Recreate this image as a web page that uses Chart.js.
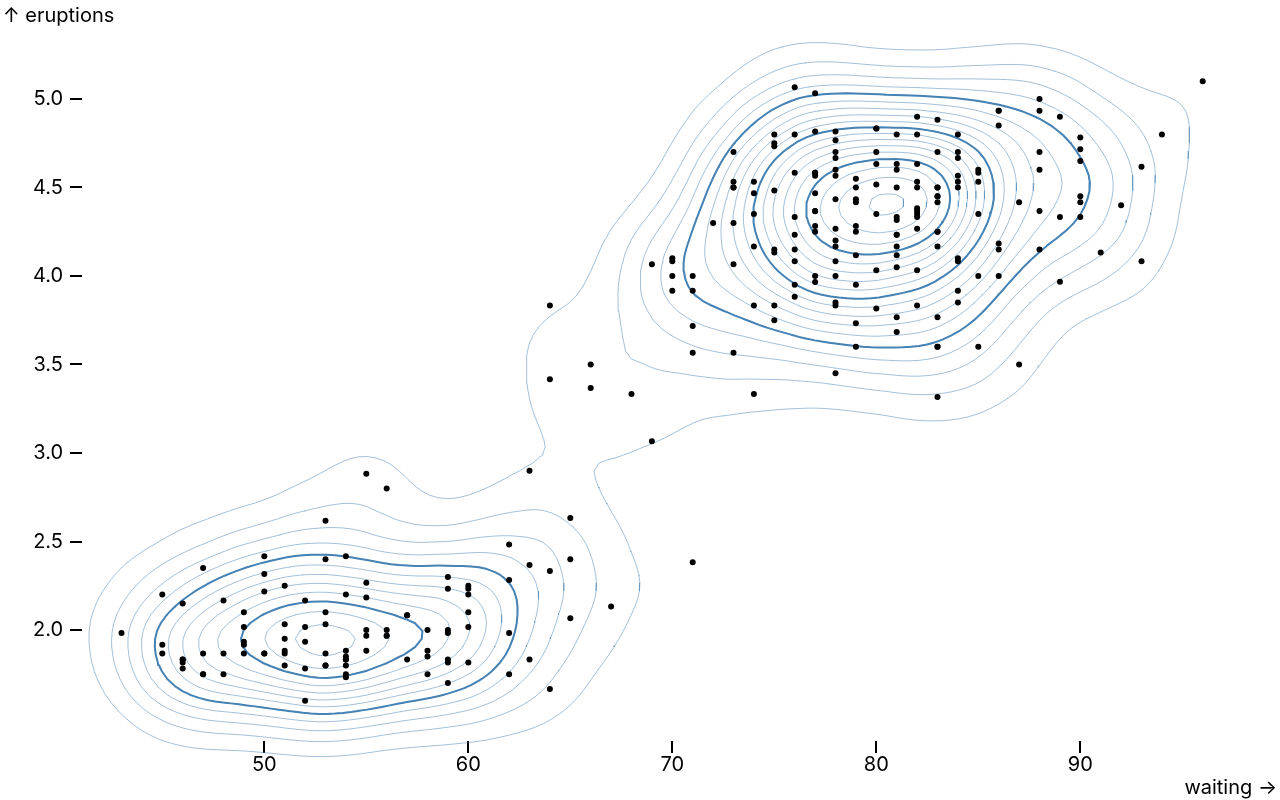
<!DOCTYPE html>
<html>
<head>
<meta charset="utf-8">
<script src="https://cdn.jsdelivr.net/npm/chart.js@4"></script>
<style>
  html, body { margin: 0; padding: 0; background: #fff; }
  #wrap { width: 1280px; height: 800px; }
</style>
</head>
<body>
<div id="wrap"><canvas id="c" width="1280" height="800"></canvas></div>
<script>
// ---- Data: Old Faithful (waiting minutes, eruption minutes) ----
const WAITING = [
79,54,74,62,85,55,88,85,51,85,
54,84,78,47,83,52,62,84,52,79,
51,47,78,69,74,83,55,76,78,79,
73,77,66,80,74,52,48,80,59,90,
80,58,84,58,73,83,64,53,82,59,
75,90,54,80,54,83,71,64,77,81,
59,84,48,82,60,92,78,78,65,73,
82,56,79,71,62,76,60,78,76,83,
75,82,70,65,73,88,76,80,48,86,
60,90,50,78,63,72,84,75,51,82,
62,88,49,83,81,47,84,52,86,81,
75,59,89,79,59,81,50,85,59,87,
53,69,77,56,88,81,45,82,55,90,
45,83,56,89,46,82,51,86,53,79,
81,60,82,77,76,59,80,49,96,53,
77,77,65,81,71,70,81,93,53,89,
45,86,58,78,66,76,63,88,52,93,
49,57,77,68,81,81,73,50,85,74,
55,77,83,83,51,78,84,46,83,55,
81,57,76,84,77,81,87,77,51,78,
60,82,91,53,78,46,77,84,49,83,
71,80,49,75,64,76,53,94,55,76,
50,82,54,75,78,79,78,78,70,79,
70,54,86,50,90,54,54,77,79,64,
75,47,86,63,85,82,57,82,67,74,
54,83,73,73,88,80,71,83,56,79,
78,84,58,83,43,60,75,81,46,90,
46,74];
const ERUPTIONS = [
3.600,1.800,3.333,2.283,4.533,2.883,4.700,3.600,1.950,4.350,
1.833,3.917,4.200,1.750,4.700,2.167,1.750,4.800,1.600,4.250,
1.800,1.750,3.450,3.067,4.533,3.600,1.967,4.083,3.850,4.433,
4.300,4.467,3.367,4.033,3.833,2.017,1.867,4.833,1.833,4.783,
4.350,1.883,4.567,1.750,4.533,3.317,3.833,2.100,4.633,2.000,
4.800,4.716,1.833,4.833,1.733,4.883,3.717,1.667,4.567,4.317,
2.233,4.500,1.750,4.800,1.817,4.400,4.167,4.700,2.067,4.700,
4.033,1.967,4.500,4.000,1.983,5.067,2.017,4.567,3.883,3.600,
4.133,4.333,4.100,2.633,4.067,4.933,3.950,4.517,2.167,4.000,
2.200,4.333,1.867,4.817,1.833,4.300,4.667,3.750,1.867,4.900,
2.483,4.367,2.100,4.500,4.050,1.867,4.700,1.783,4.850,3.683,
4.733,2.300,4.900,4.417,1.700,4.633,2.317,4.600,1.817,4.417,
2.617,4.067,4.250,1.967,4.600,3.767,1.917,4.500,2.267,4.650,
1.867,4.167,2.800,4.333,1.833,4.383,1.883,4.933,2.033,3.733,
4.233,2.233,4.533,4.817,4.333,1.983,4.633,2.017,5.100,1.800,
5.033,4.000,2.400,4.600,3.567,4.000,4.500,4.083,1.800,3.967,
2.200,4.150,2.000,3.833,3.500,4.583,2.367,5.000,1.933,4.617,
1.917,2.083,4.583,3.333,4.167,4.333,4.500,2.417,4.000,4.167,
1.883,4.583,4.250,3.767,2.033,4.433,4.083,1.833,4.417,2.183,
4.800,1.833,4.800,4.100,3.966,4.233,3.500,4.366,2.250,4.667,
2.100,4.350,4.133,1.867,4.600,1.783,4.367,3.850,1.933,4.500,
2.383,4.700,1.867,3.833,3.417,4.233,2.400,4.800,2.000,4.150,
1.867,4.267,1.750,4.483,4.000,4.117,4.083,4.267,3.917,4.550,
4.083,2.417,4.183,2.217,4.450,1.883,1.850,4.283,3.950,2.333,
4.150,2.350,4.933,2.900,4.583,3.833,2.083,4.367,2.133,4.350,
2.200,4.450,3.567,4.500,4.150,3.817,3.917,4.450,2.000,4.283,
4.767,4.533,1.850,4.250,1.983,2.250,4.750,4.117,2.150,4.417,
1.817,4.467];

const X_TICKS = [50, 60, 70, 80, 90];
const Y_TICKS = [2.0, 2.5, 3.0, 3.5, 4.0, 4.5, 5.0];
const X_LABEL = "waiting \u2192";
const Y_LABEL = "\u2191 eruptions";

// density contour settings (plot units; the picture is drawn at 2x)
const PLOT_SCALE = 2;
const BANDWIDTH = 20;
const THIN_THRESHOLDS = 20;
const BOLD_THRESHOLDS = 4;
const LEVEL_FACTOR = 1.10;

const FONT = 'Inter, "Noto Sans", "DejaVu Sans", sans-serif';
const STEEL = '#4682b4';

function uniformThresholds(max, count) {
  const out = [];
  for (let i = 1; i < count; i++) out.push(max * i / count);
  return out;
}
function blurf(radius) {
  const radius0 = Math.floor(radius);
  const t = radius - radius0;
  const w = 2 * radius + 1;
  return (T, S, start, stop, step) => {
    if (!((stop -= step) >= start)) return;
    let sum = radius0 * S[start];
    const s0 = step * radius0;
    const s1 = s0 + step;
    for (let i = start, j = start + s0; i < j; i += step) sum += S[Math.min(stop, i)];
    for (let i = start, j = stop; i <= j; i += step) {
      sum += S[Math.min(stop, i + s0)];
      T[i] = (sum + t * (S[Math.max(start, i - s1)] + S[Math.min(stop, i + s1)])) / w;
      sum -= S[Math.max(start, i - s0)];
    }
  };
}
function blur2(values, width, height, rad) {
  const b = blurf(rad);
  const temp = values.slice();
  const bh = (T, S) => { for (let y = 0, n = width * height; y < n;) b(T, S, y, y += width, 1); };
  const bv = (T, S) => { for (let x = 0, n = width * height; x < width; ++x) b(T, S, x, x + n, width); };
  bh(temp, values); bh(values, temp); bh(temp, values);
  bv(values, temp); bv(temp, values); bv(values, temp);
}
function isolines(vals, NN, MM, t) {
  const pts = new Map();
  const segs = [];
  const get = (i, j) => vals[j * NN + i];
  const hKey = (i, j) => (j * NN + i) * 2;
  const vKey = (i, j) => (j * NN + i) * 2 + 1;
  function hp(i, j) { const k = hKey(i, j); if (!pts.has(k)) { const a = get(i, j), b = get(i + 1, j); pts.set(k, [i + (t - a) / (b - a), j]); } return k; }
  function vp(i, j) { const k = vKey(i, j); if (!pts.has(k)) { const a = get(i, j), b = get(i, j + 1); pts.set(k, [i, j + (t - a) / (b - a)]); } return k; }
  for (let j = 0; j < MM - 1; j++) {
    for (let i = 0; i < NN - 1; i++) {
      const v0 = get(i, j), v1 = get(i + 1, j), v2 = get(i + 1, j + 1), v3 = get(i, j + 1);
      const code = (v0 >= t ? 8 : 0) | (v1 >= t ? 4 : 0) | (v2 >= t ? 2 : 0) | (v3 >= t ? 1 : 0);
      if (code === 0 || code === 15) continue;
      const T = () => hp(i, j), R = () => vp(i + 1, j), B = () => hp(i, j + 1), L = () => vp(i, j);
      switch (code) {
        case 1: case 14: segs.push([L(), B()]); break;
        case 2: case 13: segs.push([B(), R()]); break;
        case 3: case 12: segs.push([L(), R()]); break;
        case 4: case 11: segs.push([T(), R()]); break;
        case 6: case 9: segs.push([T(), B()]); break;
        case 7: case 8: segs.push([L(), T()]); break;
        case 5: { const c = (v0 + v1 + v2 + v3) / 4;
          if (c >= t) { segs.push([L(), T()]); segs.push([B(), R()]); } else { segs.push([L(), B()]); segs.push([T(), R()]); } break; }
        case 10: { const c = (v0 + v1 + v2 + v3) / 4;
          if (c >= t) { segs.push([L(), B()]); segs.push([T(), R()]); } else { segs.push([L(), T()]); segs.push([B(), R()]); } break; }
      }
    }
  }
  const adj = new Map();
  segs.forEach((s, idx) => { for (const k of s) { if (!adj.has(k)) adj.set(k, []); adj.get(k).push(idx); } });
  const used = new Uint8Array(segs.length);
  const chains = [];
  for (let s = 0; s < segs.length; s++) {
    if (used[s]) continue;
    used[s] = 1;
    const chain = [segs[s][0], segs[s][1]];
    let cur = chain[1];
    for (;;) { const list = adj.get(cur); let nx = -1; for (const q of list) if (!used[q]) { nx = q; break; } if (nx < 0) break; used[nx] = 1; const o = segs[nx][0] === cur ? segs[nx][1] : segs[nx][0]; chain.push(o); cur = o; }
    cur = chain[0];
    for (;;) { const list = adj.get(cur); let nx = -1; for (const q of list) if (!used[q]) { nx = q; break; } if (nx < 0) break; used[nx] = 1; const o = segs[nx][0] === cur ? segs[nx][1] : segs[nx][0]; chain.unshift(o); cur = o; }
    chains.push(chain.map(k => pts.get(k)));
  }
  return chains;
}
function buildContours(chart) {
  const xs = chart.scales.x, ys = chart.scales.y;
  const W = chart.width / PLOT_SCALE, H = chart.height / PLOT_SCALE;
  const r = (Math.sqrt(4 * BANDWIDTH * BANDWIDTH + 1) - 1) / 2;
  const k = 2, o = r * 3;
  const n = (W + o * 2) >> k, m = (H + o * 2) >> k;
  const values = new Float32Array(n * m);
  const p2k = Math.pow(2, -k);
  for (let i = 0; i < WAITING.length; i++) {
    const xi = (xs.getPixelForValue(WAITING[i]) / PLOT_SCALE + o) * p2k;
    const yi = (ys.getPixelForValue(ERUPTIONS[i]) / PLOT_SCALE + o) * p2k;
    if (xi >= 0 && xi < n && yi >= 0 && yi < m) {
      const x0 = Math.floor(xi), y0 = Math.floor(yi);
      const xt = xi - x0 - 0.5, yt = yi - y0 - 0.5;
      values[x0 + y0 * n] += (1 - xt) * (1 - yt);
      values[x0 + 1 + y0 * n] += xt * (1 - yt);
      values[x0 + 1 + (y0 + 1) * n] += xt * yt;
      values[x0 + (y0 + 1) * n] += (1 - xt) * yt;
    }
  }
  blur2(values, n, m, r * p2k);
  let mx = 0; for (const v of values) if (v > mx) mx = v;
  mx *= LEVEL_FACTOR;
  const NN = n + 2, MM = m + 2;
  const pad = new Float64Array(NN * MM);
  for (let j = 0; j < m; j++) for (let i = 0; i < n; i++) pad[(j + 1) * NN + i + 1] = values[j * n + i];
  const cell = Math.pow(2, k);
  const toData = (g) => ({
    x: xs.getValueForPixel(((g[0] - 1 + 0.5) * cell - o) * PLOT_SCALE),
    y: ys.getValueForPixel(((g[1] - 1 + 0.5) * cell - o) * PLOT_SCALE)
  });
  const make = (thr) => thr.map(t => {
    const data = [];
    for (const c of isolines(pad, NN, MM, t)) { for (const g of c) data.push(toData(g)); data.push({ x: null, y: null }); }
    return data;
  }).filter(d => d.length > 0);
  return { thin: make(uniformThresholds(mx, THIN_THRESHOLDS)), bold: make(uniformThresholds(mx, BOLD_THRESHOLDS)) };
}

// axis ranges chosen so the frame matches the picture
const X_MIN = 41.064, X_MAX = 97.828;
const Y_MIN = 1.3729, Y_MAX = 5.2203;

const axisLabels = {
  id: 'axisLabels',
  afterDraw(chart) {
    const ctx = chart.ctx;
    ctx.save();
    ctx.fillStyle = '#000';
    ctx.font = '20px ' + FONT;
    ctx.textBaseline = 'alphabetic';
    ctx.textAlign = 'left';
    ctx.fillText(Y_LABEL, 3, 22);
    ctx.textAlign = 'right';
    ctx.fillText(X_LABEL, 1277, 794);
    ctx.restore();
  }
};

const chart = new Chart(document.getElementById('c'), {
  type: 'scatter',
  data: { datasets: [{ type: 'scatter', data: WAITING.map((w, i) => ({ x: w, y: ERUPTIONS[i] })), pointRadius: 3, pointBackgroundColor: '#000', pointBorderWidth: 0, order: 0, clip: false }] },
  options: {
    responsive: false, animation: false, devicePixelRatio: 1,
    layout: { padding: { top: 60, right: 40, left: 0, bottom: 0 } },
    plugins: { legend: { display: false }, tooltip: { enabled: false } },
    events: [],
    scales: {
      x: { type: 'linear', min: X_MIN, max: X_MAX, border: { display: false },
        grid: { drawOnChartArea: false, drawTicks: true, tickLength: 12, color: '#000', lineWidth: 2 },
        ticks: { color: '#000', font: { family: FONT, size: 20 }, padding: 0, maxRotation: 0, callback: v => String(v) },
        afterBuildTicks: s => { s.ticks = X_TICKS.map(v => ({ value: v })); }, afterFit: s => { s.height = 59; } },
      y: { type: 'linear', min: Y_MIN, max: Y_MAX, border: { display: false },
        grid: { drawOnChartArea: false, drawTicks: true, tickLength: 12, color: '#000', lineWidth: 2 },
        ticks: { color: '#000', font: { family: FONT, size: 20 }, padding: 7, callback: v => Number(v).toFixed(1) },
        afterBuildTicks: s => { s.ticks = Y_TICKS.map(v => ({ value: v })); }, afterFit: s => { s.width = 82; } }
    }
  },
  plugins: [axisLabels]
});

const cont = buildContours(chart);
cont.thin.forEach(d => chart.data.datasets.push({ type: 'line', data: d, borderColor: STEEL, borderWidth: 0.5, pointRadius: 0, tension: 0, spanGaps: false, clip: false, order: 2, fill: false, borderJoinStyle: 'round', borderCapStyle: 'round' }));
cont.bold.forEach(d => chart.data.datasets.push({ type: 'line', data: d, borderColor: STEEL, borderWidth: 2, pointRadius: 0, tension: 0, spanGaps: false, clip: false, order: 1, fill: false, borderJoinStyle: 'round', borderCapStyle: 'round' }));
chart.update('none');
</script>
</body>
</html>
